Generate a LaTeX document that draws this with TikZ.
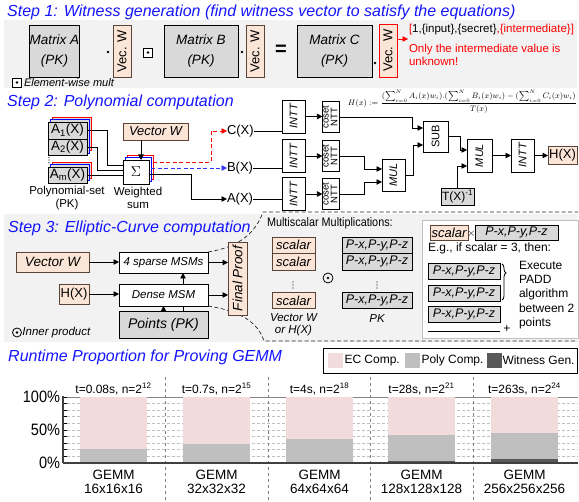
\documentclass[tikz,border=0pt]{standalone}
\usepackage{fontspec}
\setmainfont{Liberation Sans}
\newfontfamily\narrowf[FakeStretch=0.88]{Liberation Sans}
\usetikzlibrary{arrows.meta,calc,decorations.pathreplacing}
\definecolor{peach}{HTML}{FBE5D6}
\definecolor{pborder}{HTML}{5A4438}
\definecolor{boxgrey}{HTML}{D9D9D9}
\definecolor{panelgrey}{HTML}{F2F2F2}
\definecolor{ttlblue}{HTML}{1414FF}
\definecolor{ecpink}{HTML}{F2DCDB}
\definecolor{polyg}{HTML}{BFBFBF}
\definecolor{witg}{HTML}{595959}
\definecolor{gridg}{HTML}{BFBFBF}
\definecolor{sepg}{HTML}{7F7F7F}
\definecolor{axisg}{HTML}{404040}
\definecolor{linkblue}{HTML}{3333FF}
\newcommand\fsz[2]{\fontsize{#1}{#2}\selectfont}
\pgfdeclarelayer{bg}
\pgfsetlayers{bg,main}
\begin{document}
\begin{tikzpicture}[x=1pt,y=-1pt,
  box/.style={draw, inner sep=0pt, outer sep=0pt, line width=0.8pt, align=center},
  sz/.style 2 args={minimum width=#1pt, minimum height=#2pt},
  gbox/.style={box, fill=boxgrey, draw=black},
  pbox/.style={box, fill=peach, draw=pborder},
  wbox/.style={box, fill=white, draw=black},
  lbl/.style={inner sep=0pt, outer sep=0pt, align=center},
  ttl/.style={anchor=base west, inner sep=0pt, text=ttlblue, font=\fsz{16}{16}\itshape},
  conn/.style={line width=0.8pt, draw=black},
  arr/.style={conn, -{Triangle[length=5.5pt,width=5.5pt]}},
  dotn/.style={circle, fill=black, inner sep=0pt, minimum size=2.6pt},
  ewbox/.style={draw, line width=0.7pt, fill=white, inner sep=0pt, minimum size=9pt,
    path picture={\fill[black] (path picture bounding box.center) circle (1.4pt);}},
  odotn/.style={circle, draw, line width=0.8pt, inner sep=0pt, minimum size=9pt,
    path picture={\fill[black] (path picture bounding box.center) circle (1.4pt);}},
  dsh/.style={dash pattern=on 4pt off 2.5pt},
  mat/.style={gbox, font=\fsz{13.5}{20}\itshape},
  vecw/.style={pbox, sz={18}{52}},
  intt/.style={wbox, sz={23}{33}},
  coset/.style={wbox, sz={14}{31}},
  opbox/.style={wbox, sz={25}{32}},
  scl/.style={pbox, sz={43}{16.5}, font=\fsz{13}{13}\itshape},
  pxyz/.style={gbox, sz={70}{16.5}, font=\fsz{12.5}{12.5}\itshape},
  tdot/.style={black},
]
\useasboundingbox (0,0) rectangle (579,502);
\begin{pgfonlayer}{bg}
\fill[panelgrey] (4,20) rectangle (577,88);
\fill[panelgrey] (4,214) rectangle (577,342);
\end{pgfonlayer}

% ---------------- Step 1
\node[ttl] (t1) at (7,17) {Step 1: Witness generation (find witness vector to satisfy the equations)};
\node[mat, sz={45}{52}] (ma) at (54.5,51) {Matrix A\\(PK)};
\node[dotn] (d1) at (108,52) {};
\node[vecw] (va) at (122,51) {\rotatebox{90}{\fsz{13}{13}Vec. W}};
\node[ewbox] (ew1) at (148,52.5) {};
\node[mat, sz={74}{52}] (mb) at (201,51) {Matrix B\\(PK)};
\node[dotn] (d2) at (242,52) {};
\node[vecw] (vb) at (255,51) {\rotatebox{90}{\fsz{13}{13}Vec. W}};
\node[lbl, font=\fsz{20}{20}\bfseries] (eq) at (281,50) {=};
\node[mat, sz={75}{52}] (mc) at (334.5,51) {Matrix C\\(PK)};
\node[dotn] (d3) at (375,63) {};
\node[vecw, draw=red, sz={18}{53}] (vc) at (388,50.5) {\rotatebox{90}{\fsz{13}{13}Vec. W}};
\coordinate (wend) at (408,39);
\draw[arr, red] (vc.east |- wend) -- (wend);
\node[lbl, anchor=west, font=\fsz{11.5}{11.5}] (wv) at (409,30) {\textcolor{red}{[}1,\{input\},\{secret\}\textcolor{red}{,\{intermediate\}]}};
\node[lbl, anchor=north west, align=left, text=red, font=\fsz{11.5}{13}] (only) at (409,44) {Only the intermediate value is\\unknown!};
\node[ewbox] (ew2) at (17,82.5) {};
\node[lbl, anchor=west, font=\fsz{11}{11}\itshape] (ewt) at (24,82.5) {Element-wise mult};

% ---------------- Step 2
\node[ttl] (t2) at (7,107) {Step 2: Polynomial computation};
\node[gbox, draw=red, sz={39}{33.5}] (a12r) at (71.5,133.75) {};
\node[gbox, draw=blue, sz={39}{33.5}] (a12b) at (69.5,136.25) {};
\node[gbox, sz={39}{17}, font=\fsz{13.5}{13.5}] (a1) at (67.5,130.5) {A\textsubscript{1}(X)};
\node[gbox, sz={39}{16.5}, font=\fsz{13.5}{13.5}] (a2) at (67.5,147.25) {A\textsubscript{2}(X)};
\foreach \dy in {157.5,160,162.5} \fill[tdot] (49,\dy) circle (0.7pt);
\node[gbox, draw=red, sz={39}{16}] (amr) at (71.5,170) {};
\node[gbox, draw=blue, sz={39}{16}] (amb) at (69.5,172.5) {};
\node[gbox, sz={39}{16}, font=\fsz{13.5}{13.5}] (am) at (67.5,175) {A\textsubscript{m}(X)};
\node[lbl, font=\fsz{11.5}{12.5}] (pl) at (67,198) {Polynomial-set\\(PK)};

\node[wbox, draw=red, sz={26}{24}] (sigr) at (140,167) {};
\node[wbox, draw=blue, sz={26}{24}] (sigb) at (138,169.5) {};
\node[wbox, sz={26}{24}, font=\fsz{14}{14}] (sig) at (136,172) {$\Sigma$};
\node[pbox, sz={65}{17}, font=\fsz{13}{13}\itshape] (vw2) at (155.5,131.5) {Vector W};
\coordinate (sx) at (141,0);
\draw[arr] (vw2.south -| sx) -- (sig.north -| sx);
\node[lbl, font=\fsz{11.5}{12.5}] (ws) at (138,198) {Weighted\\sum};

\draw[conn] (a1.east) -| (107,165) -- ($(sig.west)+(0,-7)$);
\draw[conn] (a2.east) -| (97,170) -- ($(sig.west)+(0,-2)$);
\draw[conn] (am.east) -- (am.east -| sig.west);

\node[lbl, anchor=west, font=\fsz{13}{13}] (cx) at (227,131) {C(X)};
\node[lbl, anchor=west, font=\fsz{13}{13}] (bx) at (227,168) {B(X)};
\node[lbl, anchor=west, font=\fsz{13}{13}] (ax) at (227,199) {A(X)};
\draw[arr, red, dsh] ($(sigr.east)+(0,-5)$) -| ($(cx.west)+(-16,0)$) -- (cx.west);
\draw[arr, draw=linkblue, dsh] ($(sigb.east)+(0,-1.5)$) -- (sigb.east |- bx.west) -- (bx.west);
\draw[arr] ($(sig.east)+(0,2)$) -| ($(ax.west)+(-36,0)$) -- (ax.west);

\node[intt] (i1) at (293.5,116.5) {\rotatebox{90}{\fsz{11}{11}\itshape INTT}};
\node[intt] (i2) at (293.5,156) {\rotatebox{90}{\fsz{11}{11}\itshape INTT}};
\node[intt] (i3) at (293.5,194) {\rotatebox{90}{\fsz{11}{11}\itshape INTT}};
\draw[conn] (cx.east) -- (cx.east -| i1.west);
\draw[conn] (bx.east) -- (bx.east -| i2.west);
\draw[conn] (ax.east) -- (ax.east -| i3.west);
\node[coset] (c1) at (331,117) {\rotatebox{90}{\fsz{9.5}{7.5}\begin{tabular}{@{}c@{}}coset\\NTT\end{tabular}}};
\node[coset] (c2) at (331,156) {\rotatebox{90}{\fsz{9.5}{7.5}\begin{tabular}{@{}c@{}}coset\\NTT\end{tabular}}};
\node[coset] (c3) at (331,194) {\rotatebox{90}{\fsz{9.5}{7.5}\begin{tabular}{@{}c@{}}coset\\NTT\end{tabular}}};
\draw[arr] (i1.east) -- (i1.east -| c1.west);
\draw[arr] (i2.east) -- (i2.east -| c2.west);
\draw[arr] (i3.east) -- (i3.east -| c3.west);

\node[opbox, sz={25}{31}] (sub) at (435.5,136.5) {\rotatebox{90}{\fsz{11}{11}SUB}};
\node[opbox, sz={23}{32}] (m1) at (393.5,175) {\rotatebox{90}{\fsz{11}{11}\itshape MUL}};
\node[opbox, sz={25}{33}] (m2) at (479.5,155.5) {\rotatebox{90}{\fsz{11}{11}\itshape MUL}};
\node[intt] (i4) at (522.5,155.5) {\rotatebox{90}{\fsz{11}{11}\itshape INTT}};
\node[pbox, sz={29}{18}, font=\fsz{13}{13}] (hx) at (562.5,155.5) {H(X)};
\node[gbox, sz={33}{17}, font=\fsz{12}{12}] (tinv) at (457.5,196.5) {T(X)\textsuperscript{-1}};

\draw[arr] (c1.east) -| ($(sub.west)+(-11,-8.5)$) -- ($(sub.west)+(0,-8.5)$);
\draw[arr] (c2.east) -| ($(m1.west)+(-18,-6)$) -- ($(m1.west)+(0,-6)$);
\draw[arr] (c3.east) -| ($(m1.west)+(-18,7)$) -- ($(m1.west)+(0,7)$);
\draw[arr] (m1.east) -| ($(sub.west)+(-10,8.5)$) -- ($(sub.west)+(0,8.5)$);
\draw[arr] (sub.east) -| ($(m2.west)+(-7,-5.5)$) -- ($(m2.west)+(0,-5.5)$);
\draw[arr] (tinv.north) |- ($(m2.west)+(0,10.5)$);
\draw[arr] (m2.east) -- (i4.west);
\draw[arr] (i4.east) -- (hx.west);

\node[lbl, anchor=east, font=\fsz{7.6}{8.5}] (hf) at (577,102) {$\displaystyle H(x) := \frac{\textstyle(\sum_{i=0}^{N} A_i(x)w_i).(\sum_{i=0}^{N} B_i(x)w_i) - (\sum_{i=0}^{N} C_i(x)w_i)}{T(x)}$};

% ---------------- Step 3
\node[ttl] (t3) at (8,233) {Step 3: Elliptic-Curve computation};
\node[pbox, sz={73}{20}, font=\fsz{13.5}{13.5}\itshape] (vw3) at (52.5,262) {Vector W};
\node[pbox, sz={30}{20}, font=\fsz{13}{13}] (h3) at (74,294) {H(X)};
\node[wbox, sz={89}{21}, font=\fsz{11.5}{11.5}\itshape] (sp) at (163.5,262.5) {4 sparse MSMs};
\node[wbox, sz={89}{22}, font=\fsz{11.5}{11.5}\itshape] (dn) at (163.5,295) {Dense MSM};
\node[gbox, sz={89}{27}, font=\fsz{14}{14}\itshape] (pt) at (163.5,324.5) {Points (PK)};
\node[pbox, sz={19}{73}] (fp) at (237.5,278.5) {\rotatebox{90}{\fsz{13.5}{13.5}\itshape Final Proof}};
\draw[arr] (vw3.east) -- (vw3.east -| sp.west);
\draw[arr] (h3.east) -- (h3.east -| dn.west);
\draw[arr] (sp.east) -- (sp.east -| fp.west);
\draw[arr] (dn.east) -- (dn.east -| fp.west);
\coordinate (xa) at (183,0);
\draw[arr] (pt.north) -- (dn.south);
\draw[arr] (dn.north -| xa) -- (sp.south -| xa);
\draw[conn] (pt.north -| xa) -- (dn.south -| xa);
\node[odotn] (od1) at (17,332.5) {};
\node[lbl, anchor=west, font=\fsz{11.5}{11.5}\itshape] (ipt) at (22.5,332.5) {Inner product};

\coordinate (dtl) at (263,212);
\coordinate (dtr) at (578,212);
\coordinate (dbl) at (264,341);
\coordinate (dbr) at (578,341);
\begin{pgfonlayer}{bg}
\draw[dsh, line width=0.7pt, black!85] (sp.north east) .. controls (240,247) and (256,232) .. (dtl) -- (dtr);
\draw[dsh, line width=0.7pt, black!85] (dn.south east) .. controls (240,311) and (258,322) .. (dbl) -- (dbr);
\end{pgfonlayer}

\node[lbl, anchor=west, font=\narrowf\fsz{12.3}{12.3}] (msm) at (267,223) {Multiscalar Multiplications:};
\node[scl] (s1) at (293.5,245.25) {scalar};
\node[scl] (s2) at (293.5,261.75) {scalar};
\foreach \dy in {282,285,288} \fill[tdot] (293,\dy) circle (0.7pt);
\node[scl] (s3) at (293.5,300.5) {scalar};
\node[lbl, font=\fsz{11.5}{12}\itshape] (vwh) at (293.5,325) {Vector W\\or H(X)};
\node[odotn, minimum size=10pt] (od2) at (328,278) {};
\node[pxyz] (p1) at (377,245.25) {P-x,P-y,P-z};
\node[pxyz] (p2) at (377,261.75) {P-x,P-y,P-z};
\foreach \dy in {282,285,288} \fill[tdot] (377,\dy) circle (0.7pt);
\node[pxyz] (p3) at (377,300.5) {P-x,P-y,P-z};
\node[lbl, font=\fsz{11.5}{11.5}\itshape] (pkl) at (377,319) {PK};

\node[draw=gridg, fill=white, line width=0.8pt, inner sep=0pt, minimum width=156pt, minimum height=118pt] (ipn) at (500,279) {};
\node[pbox, sz={38}{15}, font=\fsz{13}{13}\itshape] (sr) at (449,232.5) {scalar};
\node[lbl, font=\fsz{11}{11}] (tms) at (471.5,233.5) {$\times$};
\node[gbox, sz={83}{15}, font=\fsz{12.5}{12.5}\itshape] (pr) at (516.5,232.5) {P-x,P-y,P-z};
\node[lbl, anchor=west, font=\fsz{12}{12}] (eg) at (428,248.5) {E.g., if scalar = 3, then:};
\node[pxyz, sz={72}{16}] (q1) at (464,271) {P-x,P-y,P-z};
\node[pxyz, sz={72}{16}] (q2) at (464,293) {P-x,P-y,P-z};
\node[pxyz, sz={72}{16}] (q3) at (464,314.5) {P-x,P-y,P-z};
\draw[decorate, decoration={brace, amplitude=4pt, aspect=0.25}, line width=0.8pt] ($(q1.north east)+(2,1)$) -- ($(q2.south east)+(2,-1)$);
\node[lbl, anchor=north west, align=left, font=\fsz{12}{14.3}] (exe) at (519,261) {Execute\\PADD\\algorithm\\between 2\\points};
\draw[conn, line width=0.7pt] ($(q3.south west)+(0,8.5)$) -- ($(q3.south east)+(0,8.5)$);
\node[lbl, font=\fsz{12}{12}] (plus) at (507,329) {+};

% ---------------- Chart
\node[ttl] (t4) at (8,362) {Runtime Proportion for Proving GEMM};
\node[draw=black, fill=white, line width=0.8pt, inner sep=0pt, minimum width=254pt, minimum height=25pt] (leg) at (450,360.5) {};
\node[fill=ecpink, minimum size=15pt, inner sep=0pt] (lg1) at (335.5,360.5) {};
\node[lbl, anchor=west, font=\fsz{12}{12}] (lt1) at (344.5,360.5) {EC Comp.};
\node[fill=polyg, minimum size=15pt, inner sep=0pt] (lg2) at (412.5,360.5) {};
\node[lbl, anchor=west, font=\fsz{12}{12}] (lt2) at (421.5,360.5) {Poly Comp.};
\node[fill=witg, minimum size=15pt, inner sep=0pt] (lg3) at (494.5,360.5) {};
\node[lbl, anchor=west, font=\fsz{12}{12}] (lt3) at (502.5,360.5) {Witness Gen.};

\foreach \k in {1,...,9} \draw[gridg, line width=0.6pt, dash pattern=on 3pt off 2pt] (67,463-6.6*\k) -- (578,463-6.6*\k);
\foreach \sxv in {165,268,370,473} \draw[sepg, line width=0.6pt, dash pattern=on 3pt off 3pt] (\sxv,377) -- (\sxv,500);
\draw[gridg!70!black, line width=0.8pt] (63,397) -- (578,397);
\foreach \xc/\pv/\wv/\tv/\ev/\gv [count=\i] in {113.5/21/1.5/0.08/12/16, 216.5/29/1.5/0.7/15/32, 319.5/37/1.5/4/18/64, 421.5/42/3.5/28/21/128, 524.5/46/6/263/24/256} {
  \fill[ecpink] (\xc-33.5,397.4) rectangle (\xc+33.5,463);
  \fill[polyg] (\xc-33.5,463-0.66*\pv) rectangle (\xc+33.5,463);
  \fill[witg] (\xc-33.5,463-0.66*\wv) rectangle (\xc+33.5,463);
  \node[lbl, font=\fsz{12}{12}] (tl\i) at (\xc,389) {t=\tv s, n=2\textsuperscript{\ev}};
  \node[lbl, font=\fsz{13.5}{14}] (gl\i) at (\xc,482) {GEMM\\\gv x\gv x\gv};
}
\foreach \k in {0,...,10} \draw[black, line width=0.7pt] (63,463-6.6*\k) -- (67,463-6.6*\k);
\draw[axisg, line width=1.2pt] (63,396.5) -- (63,463);
\draw[axisg, line width=1.6pt] (63,463) -- (578,463);
\node[lbl, anchor=east, font=\narrowf\fsz{16.5}{16.5}] (y100) at (60,397) {100\%};
\node[lbl, anchor=east, font=\narrowf\fsz{16.5}{16.5}] (y50) at (60,430) {50\%};
\node[lbl, anchor=east, font=\narrowf\fsz{16.5}{16.5}] (y0) at (60,463) {0\%};
\end{tikzpicture}
\end{document}
